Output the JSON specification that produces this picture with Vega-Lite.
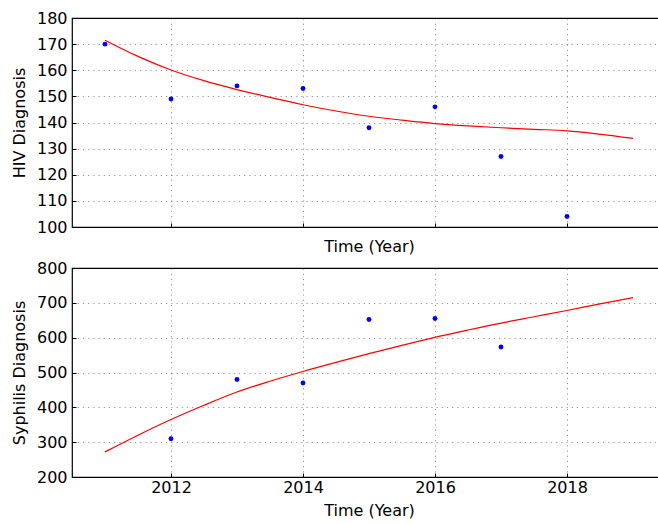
{
  "$schema": "https://vega.github.io/schema/vega-lite/v6.json",
  "background": "white",
  "padding": {"left": 10, "top": 9, "right": 0, "bottom": 0},
  "spacing": 3,
  "config": {
    "font": "DejaVu Sans",
    "view": {"stroke": "#000", "strokeWidth": 1.2},
    "axis": {
      "labelFont": "DejaVu Sans",
      "titleFont": "DejaVu Sans",
      "labelFontSize": 16,
      "titleFontSize": 16,
      "titleFontWeight": "normal",
      "labelColor": "#000",
      "titleColor": "#000",
      "labelOverlap": false,
      "grid": true,
      "gridColor": "#000",
      "gridOpacity": 0.6,
      "gridDash": [1.2, 4],
      "gridWidth": 0.7,
      "domain": false,
      "ticks": true,
      "tickColor": "#000",
      "tickSize": -4,
      "labelPadding": 6
    }
  },
  "datasets": {
    "hivPoints": [
      {"year": 2011, "value": 170},
      {"year": 2012, "value": 149},
      {"year": 2013, "value": 154},
      {"year": 2014, "value": 153},
      {"year": 2015, "value": 138},
      {"year": 2016, "value": 146},
      {"year": 2017, "value": 127},
      {"year": 2018, "value": 104}
    ],
    "hivFit": [
      {"year": 2011, "value": 171.5},
      {"year": 2011.5, "value": 165.3},
      {"year": 2012, "value": 160.1},
      {"year": 2012.5, "value": 156.0},
      {"year": 2013, "value": 152.6},
      {"year": 2013.5, "value": 149.6},
      {"year": 2014, "value": 146.8},
      {"year": 2014.5, "value": 144.4},
      {"year": 2015, "value": 142.4},
      {"year": 2015.5, "value": 140.9},
      {"year": 2016, "value": 139.6},
      {"year": 2016.5, "value": 138.7},
      {"year": 2017, "value": 138.0},
      {"year": 2017.5, "value": 137.4},
      {"year": 2018, "value": 136.8},
      {"year": 2019, "value": 133.9}
    ],
    "syphPoints": [
      {"year": 2012, "value": 310},
      {"year": 2013, "value": 480},
      {"year": 2014, "value": 470},
      {"year": 2015, "value": 652},
      {"year": 2016, "value": 655},
      {"year": 2017, "value": 573}
    ],
    "syphFit": [
      {"year": 2011, "value": 272},
      {"year": 2011.5, "value": 320},
      {"year": 2012, "value": 365},
      {"year": 2012.5, "value": 406},
      {"year": 2013, "value": 444},
      {"year": 2013.5, "value": 475},
      {"year": 2014, "value": 503},
      {"year": 2014.5, "value": 529},
      {"year": 2015, "value": 554},
      {"year": 2015.5, "value": 578},
      {"year": 2016, "value": 601},
      {"year": 2016.5, "value": 622},
      {"year": 2017, "value": 642},
      {"year": 2017.5, "value": 660},
      {"year": 2018, "value": 678},
      {"year": 2018.5, "value": 697},
      {"year": 2019, "value": 715}
    ]
  },
  "vconcat": [
    {
      "width": 594,
      "height": 209,
      "layer": [
        {
          "data": {"name": "hivFit"},
          "mark": {"type": "line", "color": "#ff0000", "strokeWidth": 1.2, "interpolate": "monotone"},
          "encoding": {
            "x": {"field": "year", "type": "quantitative", "scale": {"domain": [2010.5, 2019.5], "nice": false, "zero": false},
                  "axis": {"values": [2012, 2014, 2016, 2018], "tickCount": 20, "labels": false, "title": "Time (Year)", "titlePadding": 11}},
            "y": {"field": "value", "type": "quantitative", "scale": {"domain": [100, 180], "nice": false, "zero": false},
                  "axis": {"values": [100, 110, 120, 130, 140, 150, 160, 170, 180], "tickCount": 20, "labelOverlap": false, "labelPadding": 9, "title": "HIV Diagnosis", "titlePadding": 9}}
          }
        },
        {
          "data": {"name": "hivPoints"},
          "mark": {"type": "circle", "color": "#0000ff", "opacity": 1, "size": 24},
          "encoding": {
            "x": {"field": "year", "type": "quantitative"},
            "y": {"field": "value", "type": "quantitative"}
          }
        }
      ]
    },
    {
      "width": 594,
      "height": 209,
      "layer": [
        {
          "data": {"name": "syphFit"},
          "mark": {"type": "line", "color": "#ff0000", "strokeWidth": 1.2, "interpolate": "monotone"},
          "encoding": {
            "x": {"field": "year", "type": "quantitative", "scale": {"domain": [2010.5, 2019.5], "nice": false, "zero": false},
                  "axis": {"values": [2012, 2014, 2016, 2018], "tickCount": 20, "format": "d", "title": "Time (Year)", "titlePadding": 7}},
            "y": {"field": "value", "type": "quantitative", "scale": {"domain": [200, 800], "nice": false, "zero": false},
                  "axis": {"values": [200, 300, 400, 500, 600, 700, 800], "tickCount": 20, "labelOverlap": false, "labelPadding": 9, "title": "Syphilis Diagnosis", "titlePadding": 9}}
          }
        },
        {
          "data": {"name": "syphPoints"},
          "mark": {"type": "circle", "color": "#0000ff", "opacity": 1, "size": 24},
          "encoding": {
            "x": {"field": "year", "type": "quantitative"},
            "y": {"field": "value", "type": "quantitative"}
          }
        }
      ]
    }
  ]
}
